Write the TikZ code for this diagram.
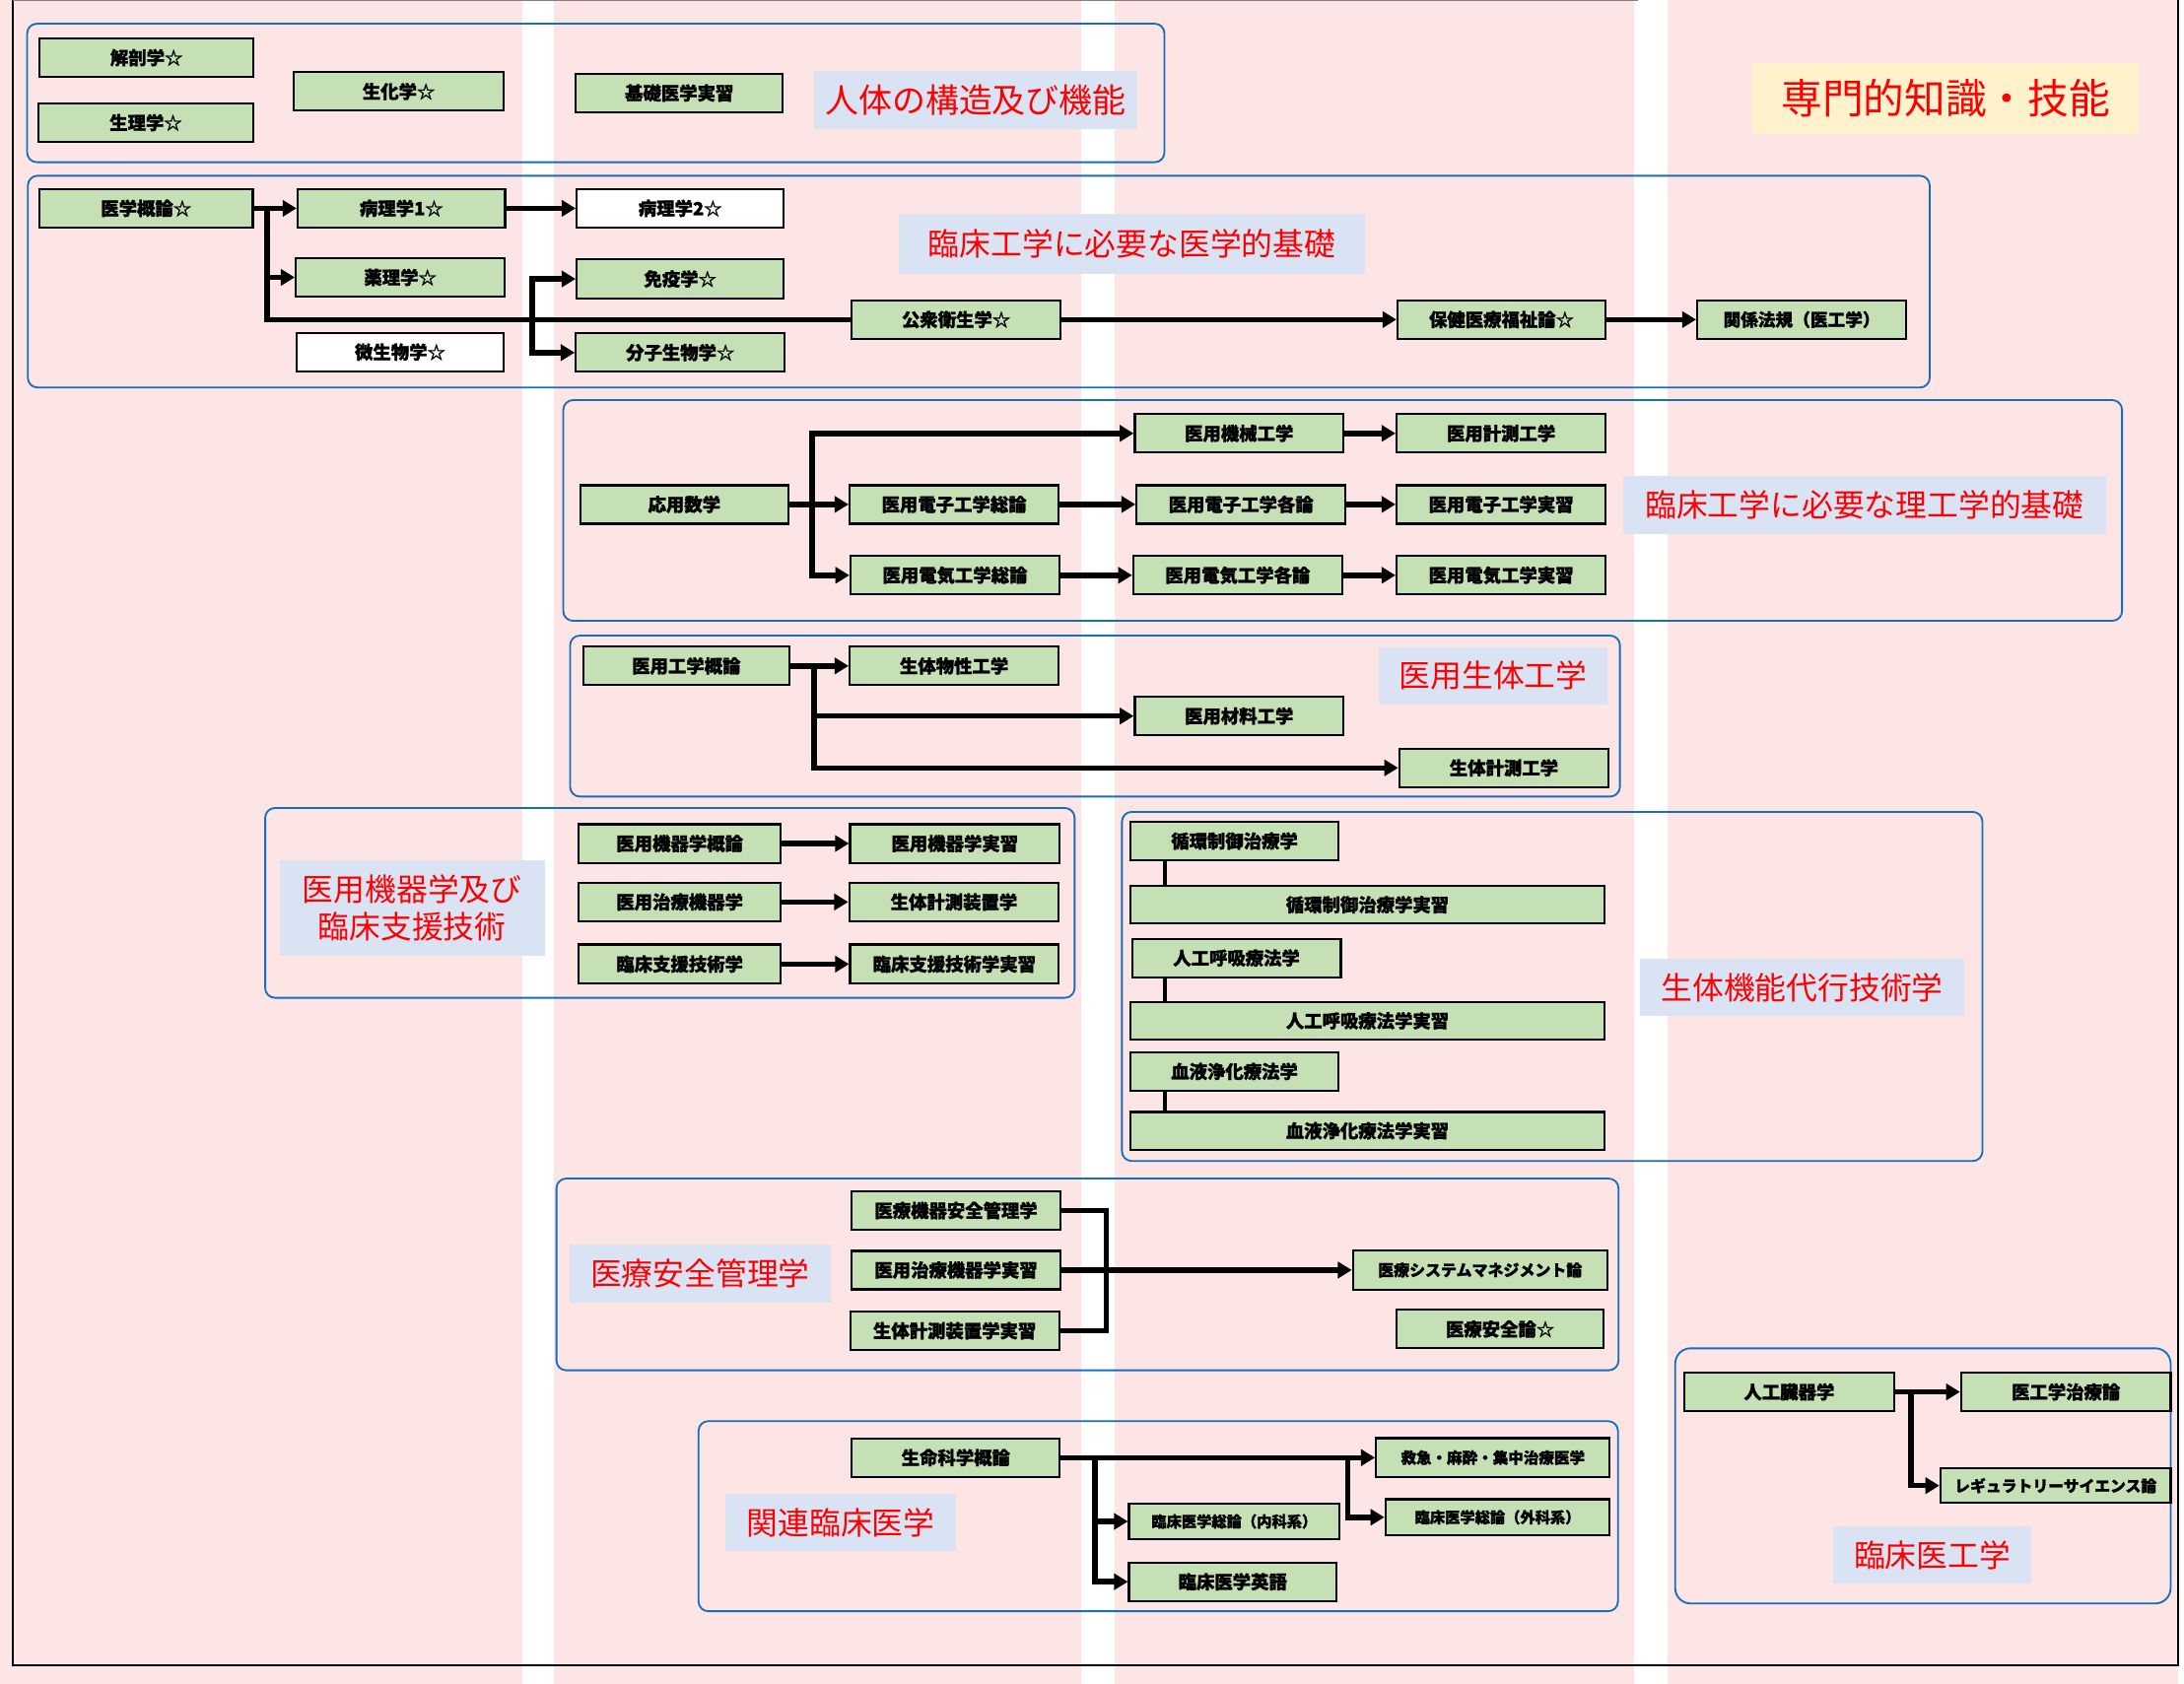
\documentclass[tikz,border=0pt]{standalone}
\usepackage{fontspec}
\newfontfamily\jp{Noto Sans CJK JP}
\newfontfamily\jpb{Noto Sans CJK JP}[BoldFeatures={FakeBold=1.3}]
\usetikzlibrary{arrows.meta}
\definecolor{pinkbg}{RGB}{253,228,229}
\definecolor{boxgreen}{RGB}{197,224,180}
\definecolor{lblblue}{RGB}{218,227,243}
\definecolor{titleyellow}{RGB}{255,242,204}
\definecolor{frameblue}{RGB}{22,110,190}
\definecolor{labelred}{RGB}{255,0,0}
\newcommand{\bxf}{\jpb\bfseries\fontsize{13}{15}\selectfont}
\newcommand{\bxs}[1]{\jpb\bfseries\fontsize{#1}{#1}\selectfont}
\newcommand{\lbf}{\jp\fontsize{22.5}{27}\selectfont}
\newcommand{\lbA}{\jp\fontsize{24}{28}\selectfont}
\newcommand{\lbT}{\jp\fontsize{29.5}{32}\selectfont}
\begin{document}
\begin{tikzpicture}[x=1pt,y=-1pt,
  box/.style={draw=black, line width=1.6pt, fill=boxgreen, inner sep=0pt, font=\bxf, text=black, minimum height=27.6pt, minimum width=150pt},
  wbox/.style={box, fill=white},
  lbl/.style={fill=lblblue, text=labelred, inner sep=0pt, font=\lbf},
  frame/.style={draw=frameblue, line width=1.3pt, rounded corners=7pt},
  conn/.style={draw=black, line width=3.9pt},
  arr/.style={conn, -{Triangle[length=10pt,width=11.5pt]}},
  vline/.style={draw=black, line width=3.2pt}]
\useasboundingbox (0,0) rectangle (1568,1209);
% background columns
\fill[pinkbg] (0,0) rectangle (375,1209);
\fill[pinkbg] (398,0) rectangle (776,1209);
\fill[pinkbg] (800,0) rectangle (1173,1209);
\fill[pinkbg] (1197,0) rectangle (1564,1209);
% outer frame
\draw[black, line width=1.4pt] (9.5,0) -- (9.5,1196) -- (1564,1196) -- (1564,0);
\draw[gray, line width=0.8pt] (9.5,0.5) -- (1176,0.5);

% title
\node[fill=titleyellow, text=labelred, inner sep=0pt, minimum width=277.5pt, minimum height=50.7pt, font=\lbT] (title) at (1396.8,70.7) {専門的知識・技能};

% ---------- frame 1
\draw[frame] (19.5,17) rectangle (836,116.5);
\node[box,minimum width=153.6pt] (kaibo) at (105.2,41.4) {解剖学☆};
\node[box,minimum width=154.6pt] (seiri) at (104.7,88.1) {生理学☆};
\node[box,minimum width=150.6pt] (seika) at (286.3,65.7) {生化学☆};
\node[box,minimum width=148.6pt,minimum height=27.9pt] (kiso) at (487.7,66.8) {基礎医学実習};
\node[lbl,minimum width=232pt,minimum height=41.5pt,font=\lbA] (L1) at (700.5,71.75) {人体の構造及び機能};

% ---------- frame 2
\draw[frame] (20,126.2) rectangle (1385.4,278.3);
\node[lbl,minimum width=334.7pt,minimum height=43pt] (L2) at (812.7,175) {臨床工学に必要な医学的基礎};
\node[box,minimum width=153pt] (igaku) at (104.9,149.6) {医学概論☆};
\node[box,minimum width=149pt] (byori1) at (288.2,149.6) {病理学1☆};
\node[wbox,minimum width=148.7pt,minimum height=27.8pt] (byori2) at (488.4,149.6) {病理学2☆};
\node[box,minimum width=150pt] (yakuri) at (287.4,199.2) {薬理学☆};
\node[box,minimum width=148.7pt,minimum height=27.9pt] (meneki) at (488.4,200.3) {免疫学☆};
\node[wbox,minimum width=148.6pt] (biseibutsu) at (287.3,252.8) {微生物学☆};
\node[box,minimum width=150pt] (bunshi) at (488.4,253.2) {分子生物学☆};
\node[box,minimum width=150pt,minimum height=27.8pt] (koshu) at (686.4,229.5) {公衆衛生学☆};
\node[box,minimum width=149.3pt,minimum height=27.8pt] (hoken) at (1078,229.5) {保健医療福祉論☆};
\node[box,minimum width=150pt,minimum height=27.8pt,font=\bxs{12.5}] (kankei) at (1293.5,229.5) {関係法規（医工学）};
\coordinate (j1) at (191.7,149.6);
\coordinate (j2) at (382,229.5);
\draw[arr] (igaku.east) -- (byori1.west);
\draw[arr] (byori1.east) -- (byori2.west);
\draw[conn] (j1) |- (koshu.west);
\draw[arr] (j1 |- yakuri.west) -- (yakuri.west);
\draw[arr] (j2) |- (meneki.west);
\draw[arr] (j2) |- (bunshi.west);
\draw[arr] (koshu.east) -- (hoken.west);
\draw[arr] (hoken.east) -- (kankei.west);

% ---------- frame 3
\draw[frame] (404.4,287.3) rectangle (1523.5,445.8);
\node[lbl,minimum width=346.5pt,minimum height=41.3pt] (L3) at (1338.7,362.6) {臨床工学に必要な理工学的基礎};
\node[box,minimum width=149.4pt] (oyo) at (491.3,362.2) {応用数学};
\node[box] (denshiS) at (685,362.2) {医用電子工学総論};
\node[box] (denkiS) at (685.6,413.1) {医用電気工学総論};
\node[box,minimum width=149.8pt] (kikai) at (889.6,311.2) {医用機械工学};
\node[box] (denshiK) at (891,362.2) {医用電子工学各論};
\node[box] (denkiK) at (888.6,413.1) {医用電気工学各論};
\node[box] (keisoku) at (1077.7,311.2) {医用計測工学};
\node[box] (denshiJ) at (1077.7,362.2) {医用電子工学実習};
\node[box] (denkiJ) at (1077.7,413.1) {医用電気工学実習};
\coordinate (j3) at (583,362.2);
\draw[arr] (oyo.east) -- (denshiS.west);
\draw[arr] (j3) |- (kikai.west);
\draw[arr] (j3) |- (denkiS.west);
\draw[arr] (denshiS.east) -- (denshiK.west);
\draw[arr] (denkiS.east) -- (denkiK.west);
\draw[arr] (kikai.east) -- (keisoku.west);
\draw[arr] (denshiK.east) -- (denshiJ.west);
\draw[arr] (denkiK.east) -- (denkiJ.west);

% ---------- frame 4
\draw[frame] (409.3,456.4) rectangle (1163,572);
\node[lbl,minimum width=164pt,minimum height=41.4pt] (L4) at (1072,485.3) {医用生体工学};
\node[box,minimum width=148pt] (gaku) at (492.7,478.2) {医用工学概論};
\node[box] (bussei) at (685,478.2) {生体物性工学};
\node[box,minimum width=149.8pt] (zairyo) at (889.6,514.2) {医用材料工学};
\node[box,minimum width=150.2pt] (seitaiK) at (1079.7,551.4) {生体計測工学};
\coordinate (j4) at (584.5,478.2);
\draw[arr] (gaku.east) -- (bussei.west);
\draw[arr] (j4) |- (zairyo.west);
\draw[arr] (j4) |- (seitaiK.west);

% ---------- frame 5
\draw[frame] (190.4,580.2) rectangle (771.5,716.5);
\node[lbl,minimum width=190.3pt,minimum height=68.3pt,align=center] (L5) at (295.9,652.2) {医用機器学及び\\臨床支援技術};
\node[box,minimum width=145pt,minimum height=27.8pt] (kikiG) at (488,605.7) {医用機器学概論};
\node[box,minimum width=150.4pt,minimum height=27.8pt] (kikiJ) at (685.5,605.7) {医用機器学実習};
\node[box,minimum width=145pt,minimum height=27.9pt] (chiryo) at (488,647.7) {医用治療機器学};
\node[box,minimum width=150.3pt,minimum height=27.9pt] (sochi) at (684.9,647.7) {生体計測装置学};
\node[box,minimum width=145pt,minimum height=28pt] (rinsho) at (488,692.3) {臨床支援技術学};
\node[box,minimum width=149.7pt,minimum height=28pt] (rinshoJ) at (685.2,692.3) {臨床支援技術学実習};
\draw[arr] (kikiG.east) -- (kikiJ.west);
\draw[arr] (chiryo.east) -- (sochi.west);
\draw[arr] (rinsho.east) -- (rinshoJ.west);

% ---------- frame 6
\draw[frame] (805.5,583) rectangle (1423.3,833.7);
\node[lbl,minimum width=232.5pt,minimum height=40.6pt] (L6) at (1293.8,709) {生体機能代行技術学};
\node[box,minimum width=149.4pt,minimum height=27.2pt] (junkan) at (886.3,603.9) {循環制御治療学};
\node[box,minimum width=340.3pt,minimum height=27.1pt] (junkanJ) at (981.75,649.65) {循環制御治療学実習};
\node[box,minimum width=149.8pt] (jinko) at (887.7,687.9) {人工呼吸療法学};
\node[box,minimum width=340.3pt,minimum height=27.1pt] (jinkoJ) at (981.75,733) {人工呼吸療法学実習};
\node[box,minimum width=149.4pt,minimum height=27.3pt] (ketsueki) at (886.3,769.4) {血液浄化療法学};
\node[box,minimum width=340.3pt,minimum height=27.1pt] (ketsuekiJ) at (981.75,812) {血液浄化療法学実習};
\draw[vline] (junkan.south -| 836.4,0) -- (junkanJ.north -| 836.4,0);
\draw[vline] (jinko.south -| 836.4,0) -- (jinkoJ.north -| 836.4,0);
\draw[vline] (ketsueki.south -| 836.4,0) -- (ketsuekiJ.north -| 836.4,0);

% ---------- frame 7
\draw[frame] (399.5,846.3) rectangle (1162,984);
\node[lbl,minimum width=187.6pt,minimum height=41.3pt] (L7) at (502.7,914.5) {医療安全管理学};
\node[box,minimum height=27.3pt] (anzenK) at (686.4,869.2) {医療機器安全管理学};
\node[box] (chiryoJ) at (686.4,912) {医用治療機器学実習};
\node[box] (sochiJ) at (685.4,955.6) {生体計測装置学実習};
\node[box,minimum width=182.6pt,minimum height=28.3pt,font=\bxs{11.3}] (system) at (1062.6,912) {医療システムマネジメント論};
\node[box,minimum width=148.8pt] (anzenR) at (1077,954.4) {医療安全論☆};
\coordinate (b7t) at (794.1,869.2);
\coordinate (b7b) at (794.1,955.6);
\draw[conn] (anzenK.east) -- (b7t) -- (b7b) -- (sochiJ.east);
\draw[arr] (chiryoJ.east) -- (system.west);

% ---------- frame 8
\draw[frame] (501.5,1020.5) rectangle (1161.6,1157);
\node[lbl,minimum width=165.7pt,minimum height=41.2pt] (L8) at (603.6,1093.3) {関連臨床医学};
\node[box,minimum width=149.4pt,minimum height=27.7pt] (seimei) at (686.2,1046.7) {生命科学概論};
\node[box,minimum width=167.7pt,minimum height=28.1pt,font=\bxs{11}] (kyukyu) at (1071.8,1046.7) {救急・麻酔・集中治療医学};
\node[box,minimum width=151.1pt,minimum height=25.7pt,font=\bxs{10.8}] (naika) at (886.1,1092.5) {臨床医学総論（内科系）};
\node[box,minimum width=161pt,minimum height=25.7pt,font=\bxs{10.8}] (geka) at (1075.2,1089.5) {臨床医学総論（外科系）};
\node[box,minimum width=148.9pt] (eigo) at (885,1135.8) {臨床医学英語};
\coordinate (j8a) at (786.1,1046.7);
\coordinate (j8b) at (967.6,1046.7);
\draw[arr] (seimei.east) -- (kyukyu.west);
\draw[arr] (j8a) |- (naika.west);
\draw[arr] (j8a) |- (eigo.west);
\draw[arr] (j8b) |- (geka.west);

% ---------- frame 9
\draw[frame, rounded corners=11pt] (1202.7,968.2) rectangle (1558.4,1151.4);
\node[lbl,minimum width=142.2pt,minimum height=40.6pt] (L9) at (1387.3,1116.5) {臨床医工学};
\node[box,minimum width=150.5pt,minimum height=27.8pt] (zoki) at (1284.5,999.5) {人工臓器学};
\node[box,minimum width=150.4pt,minimum height=27.3pt] (ikou) at (1483.2,999.5) {医工学治療論};
\node[box,minimum width=165.3pt,minimum height=25pt,font=\bxs{11.2}] (regu) at (1475.8,1066.8) {レギュラトリーサイエンス論};
\coordinate (j9) at (1371.8,999.5);
\draw[arr] (zoki.east) -- (ikou.west);
\draw[arr] (j9) |- (regu.west);
\end{tikzpicture}
\end{document}
